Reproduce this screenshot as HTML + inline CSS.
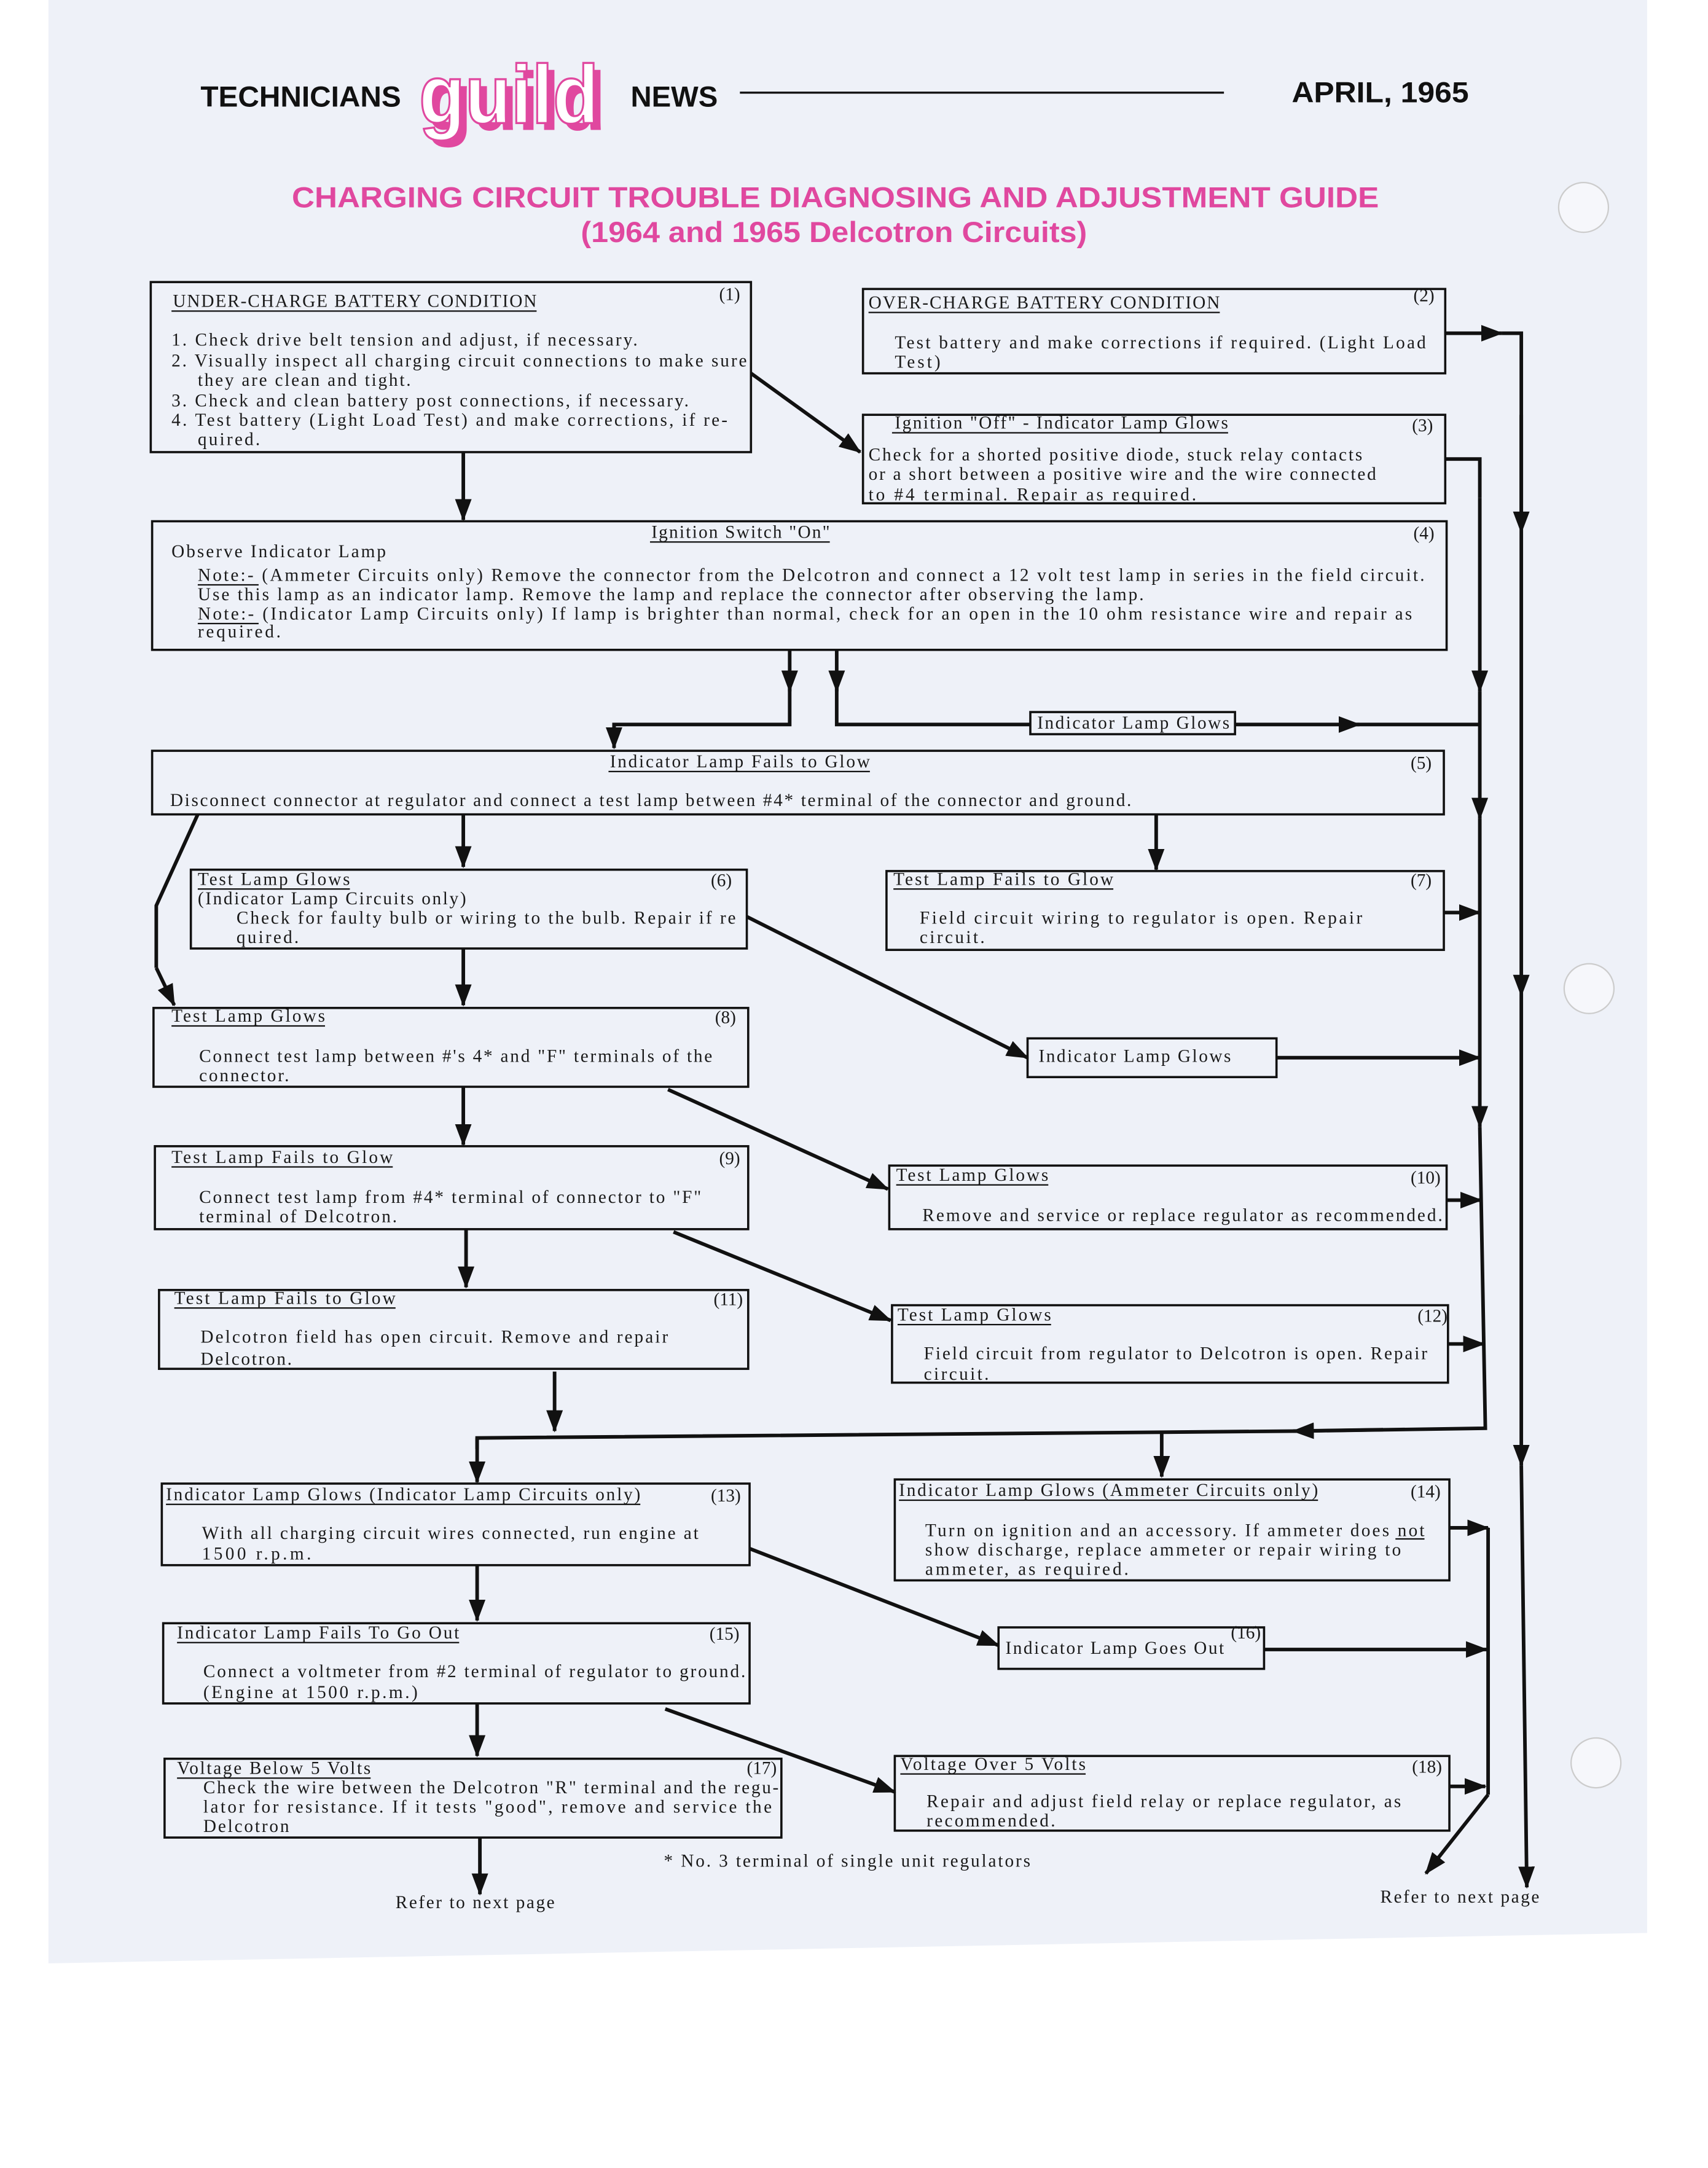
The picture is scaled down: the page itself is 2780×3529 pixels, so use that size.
<!DOCTYPE html>
<html><head><meta charset="utf-8"><style>
html,body{margin:0;padding:0;background:#fff;}
svg{display:block;}
.t{font-family:"Liberation Serif",serif;font-size:13px;fill:#1a1a1a;}
.h{font-family:"Liberation Sans",sans-serif;font-weight:bold;}
</style></head><body>
<svg width="2780" height="3529" viewBox="0 0 1235 1568" preserveAspectRatio="none" xmlns="http://www.w3.org/2000/svg">
<defs>
<marker id="a" markerUnits="userSpaceOnUse" markerWidth="16" markerHeight="12" refX="15" refY="6" orient="auto"><path d="M0,0 L16,6 L0,12 Z" fill="#111"/></marker>
</defs>
<rect x="0" y="0" width="1235" height="1568" fill="#fff"/>
<polygon points="35,0 1191,0 1191,1398 35,1420" fill="#eef1f8"/>
<circle cx="1145" cy="150" r="18" fill="#f6f7fb" stroke="#ccc"/>
<circle cx="1149" cy="715" r="18" fill="#f6f7fb" stroke="#ccc"/>
<circle cx="1154" cy="1275" r="18" fill="#f6f7fb" stroke="#ccc"/>

<text x="145" y="77" class="h" font-size="21" fill="#111" textLength="145" lengthAdjust="spacingAndGlyphs">TECHNICIANS</text>
<text x="308" y="94" class="h" font-size="60" fill="#e0489f" textLength="130" lengthAdjust="spacingAndGlyphs">guild</text>
<text x="303" y="89" class="h" font-size="60" fill="#fff" stroke="#e0489f" stroke-width="1.5" textLength="130" lengthAdjust="spacingAndGlyphs">guild</text>
<text x="456" y="77" class="h" font-size="21" fill="#111" textLength="63" lengthAdjust="spacingAndGlyphs">NEWS</text>
<line x1="535" y1="67" x2="885" y2="67" stroke="#111" stroke-width="1.5"/>
<text x="934" y="74" class="h" font-size="21" fill="#111" textLength="128" lengthAdjust="spacingAndGlyphs">APRIL, 1965</text>
<text x="211" y="150" class="h" font-size="21" fill="#e0489f" textLength="786" lengthAdjust="spacingAndGlyphs">CHARGING CIRCUIT TROUBLE DIAGNOSING AND ADJUSTMENT GUIDE</text>
<text x="420" y="175" class="h" font-size="21" fill="#e0489f" textLength="366" lengthAdjust="spacingAndGlyphs">(1964 and 1965 Delcotron Circuits)</text>

<g fill="none" stroke="#111" stroke-width="1.6">
<rect x="109" y="204" width="434" height="123"/>
<rect x="624" y="209" width="421" height="61"/>
<rect x="624" y="300" width="421" height="64"/>
<rect x="110" y="377" width="936" height="93"/>
<rect x="745" y="515" width="148" height="16"/>
<rect x="110" y="543" width="934" height="46"/>
<rect x="138" y="629" width="402" height="57"/>
<rect x="641" y="630" width="403" height="57"/>
<rect x="111" y="729" width="430" height="57"/>
<rect x="743" y="751" width="180" height="28"/>
<rect x="112" y="829" width="429" height="60"/>
<rect x="643" y="843" width="403" height="46"/>
<rect x="115" y="933" width="426" height="57"/>
<rect x="645" y="944" width="402" height="56"/>
<rect x="117" y="1073" width="425" height="59"/>
<rect x="647" y="1070" width="401" height="73"/>
<rect x="722" y="1177" width="192" height="30"/>
<rect x="118" y="1174" width="424" height="58"/>
<rect x="119" y="1272" width="446" height="57"/>
<rect x="647" y="1270" width="401" height="54"/>
</g>

<g stroke="#111" stroke-width="1">
<line x1="124" y1="225" x2="388" y2="225"/>
<line x1="628" y1="226" x2="882" y2="226"/>
<line x1="645" y1="313" x2="888" y2="313"/>
<line x1="470" y1="392" x2="600" y2="392"/>
<line x1="143" y1="423" x2="187" y2="423"/>
<line x1="143" y1="451" x2="187" y2="451"/>
<line x1="440" y1="558" x2="629" y2="558"/>
<line x1="143" y1="643" x2="253" y2="643"/>
<line x1="646" y1="643" x2="805" y2="643"/>
<line x1="124" y1="742" x2="235" y2="742"/>
<line x1="124" y1="844" x2="284" y2="844"/>
<line x1="648" y1="857" x2="758" y2="857"/>
<line x1="126" y1="946" x2="286" y2="946"/>
<line x1="649" y1="958" x2="760" y2="958"/>
<line x1="120" y1="1088" x2="463" y2="1088"/>
<line x1="650" y1="1085" x2="953" y2="1085"/>
<line x1="1009" y1="1113" x2="1030" y2="1113"/>
<line x1="128" y1="1188" x2="332" y2="1188"/>
<line x1="128" y1="1286" x2="268" y2="1286"/>
<line x1="651" y1="1283" x2="785" y2="1283"/>
</g>

<g class="t">
<text x="125" y="222" textLength="263">UNDER-CHARGE BATTERY CONDITION</text>
<text x="520" y="217">(1)</text>
<text x="124" y="250" textLength="337">1. Check drive belt tension and adjust, if necessary.</text>
<text x="124" y="265" textLength="416">2. Visually inspect all charging circuit connections to make sure</text>
<text x="143" y="279" textLength="154">they are clean and tight.</text>
<text x="124" y="294" textLength="374">3. Check and clean battery post connections, if necessary.</text>
<text x="124" y="308" textLength="402">4. Test battery (Light Load Test) and make corrections, if re-</text>
<text x="143" y="322" textLength="45">quired.</text>

<text x="628" y="223" textLength="254">OVER-CHARGE BATTERY CONDITION</text>
<text x="1022" y="218">(2)</text>
<text x="647" y="252" textLength="384">Test battery and make corrections if required.  (Light Load</text>
<text x="647" y="266" textLength="33">Test)</text>

<text x="647" y="310" textLength="241">Ignition "Off" - Indicator Lamp Glows</text>
<text x="1021" y="312">(3)</text>
<text x="628" y="333" textLength="357">Check for a shorted positive diode, stuck relay contacts</text>
<text x="628" y="347" textLength="367">or a short between a positive wire and the wire connected</text>
<text x="628" y="362" textLength="237">to #4 terminal.   Repair as required.</text>

<text x="471" y="389" textLength="129">Ignition Switch "On"</text>
<text x="1022" y="390">(4)</text>
<text x="124" y="403" textLength="155">Observe Indicator Lamp</text>
<text x="143" y="420" textLength="887">Note:-   (Ammeter Circuits only)   Remove the connector from the Delcotron and connect a 12 volt test lamp in series in the field circuit.</text>
<text x="143" y="434" textLength="684">Use this lamp as an indicator lamp.  Remove the lamp and replace the connector after observing the lamp.</text>
<text x="143" y="448" textLength="878">Note:-   (Indicator Lamp Circuits only)   If lamp is brighter than normal, check for an open in the 10 ohm resistance wire and repair as</text>
<text x="143" y="461" textLength="60">required.</text>

<text x="750" y="527" textLength="139">Indicator Lamp Glows</text>

<text x="441" y="555" textLength="188">Indicator Lamp Fails to Glow</text>
<text x="1020" y="556">(5)</text>
<text x="123" y="583" textLength="695">Disconnect connector at regulator and connect a test lamp between #4* terminal of the connector and ground.</text>

<text x="143" y="640" textLength="110">Test Lamp Glows</text>
<text x="514" y="641">(6)</text>
<text x="143" y="654" textLength="194">(Indicator Lamp Circuits only)</text>
<text x="171" y="668" textLength="361">Check for faulty bulb or wiring to the bulb.  Repair if re</text>
<text x="171" y="682" textLength="45">quired.</text>

<text x="646" y="640" textLength="159">Test Lamp Fails to Glow</text>
<text x="1020" y="641">(7)</text>
<text x="665" y="668" textLength="320">Field circuit wiring to regulator is open.   Repair</text>
<text x="665" y="682" textLength="47">circuit.</text>

<text x="124" y="739" textLength="111">Test Lamp Glows</text>
<text x="517" y="740">(8)</text>
<text x="144" y="768" textLength="371">Connect test lamp between #'s 4* and "F" terminals of the</text>
<text x="144" y="782" textLength="65">connector.</text>

<text x="751" y="768" textLength="139">Indicator Lamp Glows</text>

<text x="124" y="841" textLength="160">Test Lamp Fails to Glow</text>
<text x="520" y="842">(9)</text>
<text x="144" y="870" textLength="363">Connect test lamp from #4* terminal of connector to "F"</text>
<text x="144" y="884" textLength="143">terminal of Delcotron.</text>

<text x="648" y="854" textLength="110">Test Lamp Glows</text>
<text x="1020" y="856">(10)</text>
<text x="667" y="883" textLength="376">Remove and service or replace regulator as recommended.</text>

<text x="126" y="943" textLength="160">Test Lamp Fails to Glow</text>
<text x="516" y="944">(11)</text>
<text x="145" y="971" textLength="338">Delcotron field has open circuit.  Remove and repair</text>
<text x="145" y="987" textLength="66">Delcotron.</text>

<text x="649" y="955" textLength="111">Test Lamp Glows</text>
<text x="1025" y="956">(12)</text>
<text x="668" y="983" textLength="364">Field circuit from regulator to Delcotron is open. Repair</text>
<text x="668" y="998" textLength="47">circuit.</text>

<text x="120" y="1085" textLength="343">Indicator Lamp Glows (Indicator Lamp Circuits only)</text>
<text x="514" y="1086">(13)</text>
<text x="146" y="1113" textLength="359">With all charging circuit wires connected, run engine at</text>
<text x="146" y="1128" textLength="79">1500 r.p.m.</text>

<text x="650" y="1082" textLength="303">Indicator Lamp Glows (Ammeter Circuits only)</text>
<text x="1020" y="1083">(14)</text>
<text x="669" y="1111" textLength="361">Turn on ignition and an accessory.  If ammeter does not</text>
<text x="669" y="1125" textLength="344">show discharge, replace ammeter or repair wiring to</text>
<text x="669" y="1139" textLength="147">ammeter, as required.</text>

<text x="727" y="1196" textLength="158">Indicator Lamp Goes Out</text>
<text x="890" y="1185">(16)</text>

<text x="128" y="1185" textLength="204">Indicator Lamp Fails To Go Out</text>
<text x="513" y="1186">(15)</text>
<text x="147" y="1213" textLength="392">Connect a voltmeter from #2 terminal of regulator to ground.</text>
<text x="147" y="1228" textLength="155">(Engine at 1500 r.p.m.)</text>

<text x="128" y="1283" textLength="140">Voltage Below 5 Volts</text>
<text x="540" y="1283">(17)</text>
<text x="147" y="1297" textLength="416">Check the wire between the Delcotron "R" terminal and the regu-</text>
<text x="147" y="1311" textLength="411">lator for resistance.  If it tests "good", remove and service the</text>
<text x="147" y="1325" textLength="62">Delcotron</text>

<text x="651" y="1280" textLength="134">Voltage Over 5 Volts</text>
<text x="1021" y="1282">(18)</text>
<text x="670" y="1307" textLength="343">Repair and adjust field relay or replace regulator, as</text>
<text x="670" y="1321" textLength="93">recommended.</text>

<text x="480" y="1350" textLength="265">* No. 3 terminal of single unit regulators</text>
<text x="286" y="1380" textLength="115">Refer to next page</text>
<text x="998" y="1376" textLength="115">Refer to next page</text>
</g>

<g fill="none" stroke="#111" stroke-width="2.6" stroke-linejoin="miter">
<line x1="543" y1="270" x2="622" y2="327" marker-end="url(#a)"/>
<line x1="335" y1="327" x2="335" y2="376" marker-end="url(#a)"/>
<line x1="1045" y1="241" x2="1086" y2="241" marker-end="url(#a)"/>
<polyline points="1086,241 1100,241 1100,380"/>
<line x1="1100" y1="300" x2="1100" y2="385" marker-end="url(#a)"/>
<line x1="1100" y1="385" x2="1100" y2="720" marker-end="url(#a)"/>
<line x1="1100" y1="720" x2="1100" y2="1060" marker-end="url(#a)"/>
<line x1="1100" y1="1060" x2="1104" y2="1365" marker-end="url(#a)"/>
<polyline points="1045,332 1070,332 1070,360"/>
<line x1="1070" y1="360" x2="1070" y2="500" marker-end="url(#a)"/>
<line x1="1070" y1="500" x2="1070" y2="592" marker-end="url(#a)"/>
<line x1="1070" y1="592" x2="1070" y2="815" marker-end="url(#a)"/>
<polyline points="1070,815 1074,1033 940,1035"/>
<line x1="1000" y1="1034" x2="935" y2="1035" marker-end="url(#a)"/>
<polyline points="940,1035 345,1040 345,1048"/>
<line x1="345" y1="1040" x2="345" y2="1072" marker-end="url(#a)"/>
<line x1="840" y1="1036" x2="840" y2="1068" marker-end="url(#a)"/>
<line x1="571" y1="470" x2="571" y2="500" marker-end="url(#a)"/>
<polyline points="571,495 571,524 444,524 444,532"/>
<line x1="444" y1="524" x2="444" y2="541" marker-end="url(#a)"/>
<line x1="605" y1="470" x2="605" y2="500" marker-end="url(#a)"/>
<polyline points="605,495 605,524 745,524"/>
<line x1="893" y1="524" x2="983" y2="524" marker-end="url(#a)"/>
<line x1="980" y1="524" x2="1070" y2="524"/>
<line x1="335" y1="589" x2="335" y2="627" marker-end="url(#a)"/>
<line x1="836" y1="589" x2="836" y2="629" marker-end="url(#a)"/>
<polyline points="143,589 113,655 113,700"/>
<line x1="113" y1="700" x2="126" y2="727" marker-end="url(#a)"/>
<line x1="335" y1="686" x2="335" y2="727" marker-end="url(#a)"/>
<line x1="540" y1="663" x2="743" y2="765" marker-end="url(#a)"/>
<line x1="923" y1="765" x2="1070" y2="765" marker-end="url(#a)"/>
<line x1="1044" y1="660" x2="1070" y2="660" marker-end="url(#a)"/>
<line x1="335" y1="786" x2="335" y2="828" marker-end="url(#a)"/>
<line x1="483" y1="788" x2="642" y2="860" marker-end="url(#a)"/>
<line x1="337" y1="889" x2="337" y2="931" marker-end="url(#a)"/>
<line x1="487" y1="891" x2="644" y2="955" marker-end="url(#a)"/>
<line x1="1046" y1="868" x2="1071" y2="868" marker-end="url(#a)"/>
<line x1="1047" y1="972" x2="1073" y2="972" marker-end="url(#a)"/>
<line x1="401" y1="992" x2="401" y2="1035" marker-end="url(#a)"/>
<line x1="345" y1="1132" x2="345" y2="1172" marker-end="url(#a)"/>
<line x1="542" y1="1120" x2="722" y2="1190" marker-end="url(#a)"/>
<line x1="1048" y1="1105" x2="1076" y2="1105" marker-end="url(#a)"/>
<polyline points="1076,1105 1076,1298"/>
<line x1="1076" y1="1298" x2="1031" y2="1355" marker-end="url(#a)"/>
<line x1="914" y1="1193" x2="1075" y2="1193" marker-end="url(#a)"/>
<line x1="1048" y1="1292" x2="1074" y2="1292" marker-end="url(#a)"/>
<line x1="345" y1="1232" x2="345" y2="1270" marker-end="url(#a)"/>
<line x1="481" y1="1236" x2="647" y2="1296" marker-end="url(#a)"/>
<line x1="347" y1="1329" x2="347" y2="1370" marker-end="url(#a)"/>
</g>
</svg>
</body></html>
